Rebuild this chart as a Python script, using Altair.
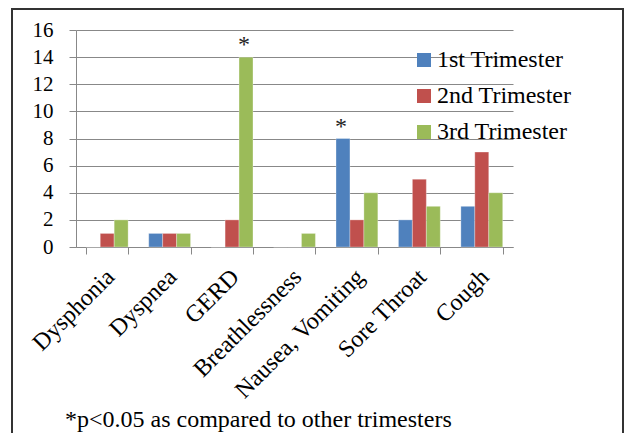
import altair as alt
import pandas as pd

categories = ["Dysphonia", "Dyspnea", "GERD", "Breathlessness",
              "Nausea, Vomiting", "Sore Throat", "Cough"]
series = ["1st Trimester", "2nd Trimester", "3rd Trimester"]
first = [0, 1, 0, 0, 8, 2, 3]
second = [1, 1, 2, 0, 2, 5, 7]
third = [2, 1, 14, 1, 4, 3, 4]
colors = ["#4F81BD", "#C0504D", "#9BBB59"]
significant = [("GERD", "3rd Trimester"), ("Nausea, Vomiting", "1st Trimester")]
footnote = "*p<0.05 as compared to other trimesters"

rows = []
for s, vals in zip(series, [first, second, third]):
    for c, v in zip(categories, vals):
        rows.append({"Symptom": c, "Trimester": s, "Count": v,
                     "mark": "*" if (c, s) in significant else ""})
df = pd.DataFrame(rows)

FONT = "Liberation Serif"

x = alt.X("Symptom:N", sort=categories,
          scale=alt.Scale(paddingInner=0.33, paddingOuter=0.165),
          axis=alt.Axis(title=None, labelAngle=-45, labelFont=FONT, labelFontSize=24,
                        labelColor="black", domainColor="#888888", tickColor="#888888",
                        tickSize=7, tickBand="extent", labelPadding=19, labelAlign="right",
                        labelBaseline="middle", labelOffset=3, labelLimit=300))
xo = alt.XOffset("Trimester:N", sort=series, scale=alt.Scale(paddingInner=0, paddingOuter=0))
y = alt.Y("Count:Q", scale=alt.Scale(domain=[0, 16]),
          axis=alt.Axis(title=None, values=list(range(0, 17, 2)), labelFont=FONT,
                        labelFontSize=21, labelColor="black", domainColor="#888888",
                        tickColor="#888888", gridColor="#888888", tickSize=7,
                        labelPadding=16))

bars = alt.Chart(df).mark_bar(stroke="white", strokeWidth=0.5, strokeOpacity=0.6).encode(
    x=x, xOffset=xo, y=y,
    color=alt.Color("Trimester:N", sort=series,
                    scale=alt.Scale(domain=series, range=colors),
                    legend=alt.Legend(title=None, orient="none", legendX=336, legendY=18,
                                      symbolType="square", symbolSize=196,
                                      symbolStrokeWidth=0, labelFont=FONT,
                                      labelFontSize=24, labelColor="black",
                                      rowPadding=12, labelOffset=1))
)

stars = alt.Chart(df).transform_filter(alt.datum.mark != "").mark_text(
    font=FONT, fontSize=24, baseline="bottom", dy=0, dx=-2, color="#222222"
).encode(x=x, xOffset=xo, y=y, text="mark:N")

frame_df = pd.DataFrame({"k": [0]})
frame = alt.Chart(frame_df).mark_rect(fill=None, stroke="#333333", strokeWidth=2).encode(
    x=alt.value(-64), x2=alt.value(547), y=alt.value(-21), y2=alt.value(430)
)
note = alt.Chart(pd.DataFrame({"t": [footnote]})).mark_text(
    font=FONT, fontSize=24, align="left", baseline="alphabetic", color="black"
).encode(x=alt.value(-11), y=alt.value(397), text="t:N")

chart = alt.layer(bars, stars, frame, note).properties(
    width=437, height=217,
    autosize=alt.AutoSizeParams(type="none"),
    padding={"left": 68, "top": 22, "right": 112, "bottom": 186},
).configure_view(stroke=None).configure_axisX(grid=False).configure_axis(
    labelFont=FONT
).configure_text(font=FONT).configure_legend(labelFont=FONT)

chart.save("out.html", embed_options={"renderer": "svg", "actions": False})
